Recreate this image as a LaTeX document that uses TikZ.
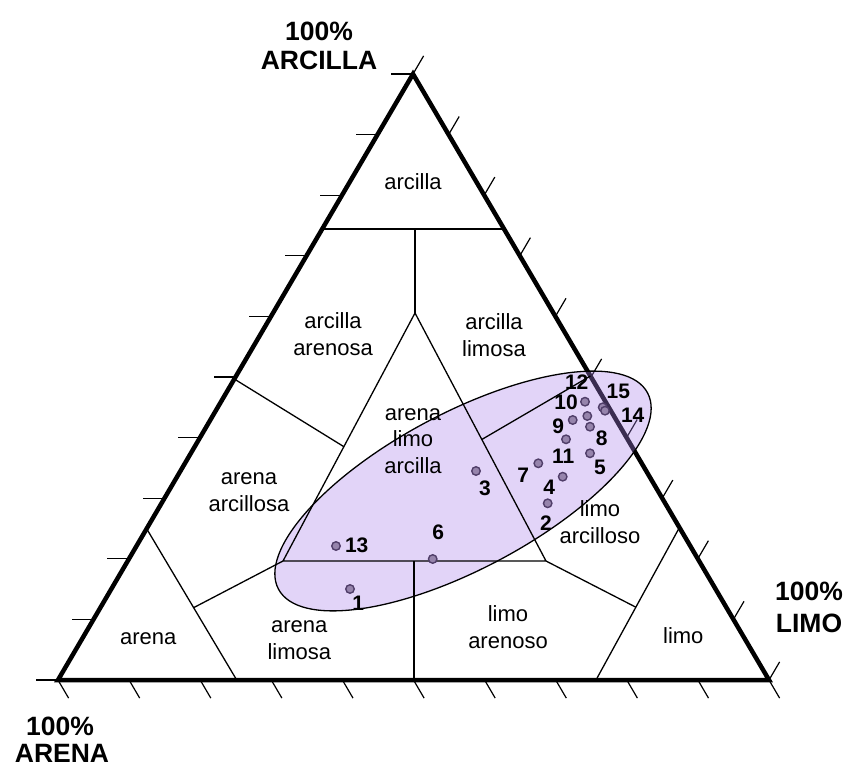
\documentclass[tikz,border=0pt]{standalone}
\usepackage{fontspec}
\setmainfont{Liberation Sans}
\usetikzlibrary{calc}
\definecolor{ellfill}{RGB}{170,130,235}
\definecolor{dotring}{RGB}{80,62,105}
\definecolor{dotfill}{RGB}{150,132,172}
\begin{document}
\begin{tikzpicture}[x=1pt,y=-1pt,
  side/.style={line width=4.5pt, line join=miter},
  bound/.style={line width=1.3pt},
  tickmark/.style={line width=1.2pt},
  reg/.style={font=\fontsize{22}{26.5}\selectfont, align=center, inner sep=0pt},
  num/.style={font=\bfseries\fontsize{21}{24}\selectfont, inner sep=0pt},
  ttl/.style={font=\bfseries\fontsize{26.5}{30}\selectfont, inner sep=0pt, anchor=base},
  dot/.style={circle, draw=dotring, fill=dotfill, line width=1.4pt, minimum size=8.5pt, inner sep=0pt}
]
\useasboundingbox (0,0) rectangle (845,767);
% vertices
\coordinate (A) at (413,74);
\coordinate (L) at (58,680);
\coordinate (R) at (769,680);
% ticks
\foreach \k in {0,...,10}{
  \draw[tickmark] ($(A)!\k/10!(L)$) -- ++(-22,0);
  \draw[tickmark] ($(A)!\k/10!(R)$) -- ++(10.6,-18.1);
  \draw[tickmark] ($(L)!\k/10!(R)$) -- ++(10.6,18.1);
}
% outer triangle
\draw[side] (A) -- (L) -- (R) -- cycle;
% shaded ellipse
\coordinate (E) at (463,491);
\fill[ellfill, opacity=0.34, rotate around={28:(E)}] (E) ellipse [x radius=209pt, y radius=78pt];
% boundary points
\coordinate (T1) at (322.2,229);
\coordinate (T2) at (504.1,229);
\coordinate (V1) at (415,229);
\coordinate (I1) at (415,313);
\coordinate (I2) at (283,561);
\coordinate (I3) at (546,561);
\coordinate (M) at (414,561);
\coordinate (B2) at (414,680);
\coordinate (J1) at (234.3,379);
\coordinate (K1) at ($(I1)!0.539!(I2)$);
\coordinate (J2) at (590.4,376);
\coordinate (K2) at ($(I1)!0.51!(I3)$);
\coordinate (J3) at (147,529.3);
\coordinate (B1) at (236.7,680);
\coordinate (J4) at ($(J3)!0.52!(B1)$);
\coordinate (J5) at (679,528.3);
\coordinate (B3) at (596,680);
\coordinate (J6) at ($(B3)!0.48!(J5)$);
% boundaries
\draw[bound] (T1) -- (T2);
\draw[bound] (V1) -- (I1);
\draw[bound] (I1) -- (I2) -- (I3) -- cycle;
\draw[bound] (M) -- (B2);
\draw[bound] (J1) -- (K1);
\draw[bound] (J2) -- (K2);
\draw[bound] (J3) -- (B1);
\draw[bound] (I2) -- (J4);
\draw[bound] (J5) -- (B3);
\draw[bound] (I3) -- (J6);
% ellipse outline
\draw[bound, rotate around={28:(E)}] (E) ellipse [x radius=209pt, y radius=78pt];
% sample points
\node[dot] (p1) at (350,589) {};
\node[dot] (p3) at (476,471) {};
\node[dot] (p6) at (432.7,559) {};
\node[dot] (p13) at (336,546) {};
\node[dot] (q1) at (585,401.7) {};
\node[dot] (q2) at (587.3,416) {};
\node[dot] (q3) at (602.7,407.3) {};
\node[dot] (q4) at (605,410.7) {};
\node[dot] (q5) at (572.7,420) {};
\node[dot] (q6) at (590,426.7) {};
\node[dot] (q7) at (566,439.3) {};
\node[dot] (q8) at (590,453.3) {};
\node[dot] (q9) at (538.3,463.3) {};
\node[dot] (q10) at (562.7,476.7) {};
\node[dot] (q11) at (547.7,503.3) {};
% point numbers
\node[num] (n1) at (358.3,603.3) {1};
\node[num] (n3) at (485,488.3) {3};
\node[num] (n6) at (438.3,532.3) {6};
\node[num] (n13) at (356.7,545.7) {13};
\node[num] (n12) at (576.7,381.7) {12};
\node[num] (n15) at (618.3,391.7) {15};
\node[num] (n10) at (566,402.7) {10};
\node[num] (n14) at (632.7,415) {14};
\node[num] (n9) at (558.3,426.7) {9};
\node[num] (n8) at (601.7,438.3) {8};
\node[num] (n11) at (563.3,456.7) {11};
\node[num] (n5) at (600,467.3) {5};
\node[num] (n7) at (523.3,475) {7};
\node[num] (n4) at (549.3,487.3) {4};
\node[num] (n2) at (546,523.3) {2};
% region labels
\node[reg] (r1) at (413,182) {arcilla};
\node[reg] (r2) at (333,334) {arcilla\\arenosa};
\node[reg] (r3) at (494,335) {arcilla\\limosa};
\node[reg] (r4) at (249,492) {arena\\arcillosa};
\node[reg] (r5) at (413,441) {arena\\limo\\arcilla};
\node[reg] (r6) at (600,522) {limo\\arcilloso};
\node[reg] (r7) at (148.3,638.3) {arena};
\node[reg] (r8) at (299.3,640) {arena\\limosa};
\node[reg] (r9) at (508,627) {limo\\arenoso};
\node[reg] (r10) at (683.3,635.7) {limo};
% titles
\node[ttl] (t1) at (319,41) {100\%};
\node[ttl] (t2) at (319,70) {ARCILLA};
\node[ttl] (t3) at (809,600) {100\%};
\node[ttl] (t4) at (809,632) {LIMO};
\node[ttl] (t5) at (60,735) {100\%};
\node[ttl] (t6) at (62,762) {ARENA};
\end{tikzpicture}
\end{document}
